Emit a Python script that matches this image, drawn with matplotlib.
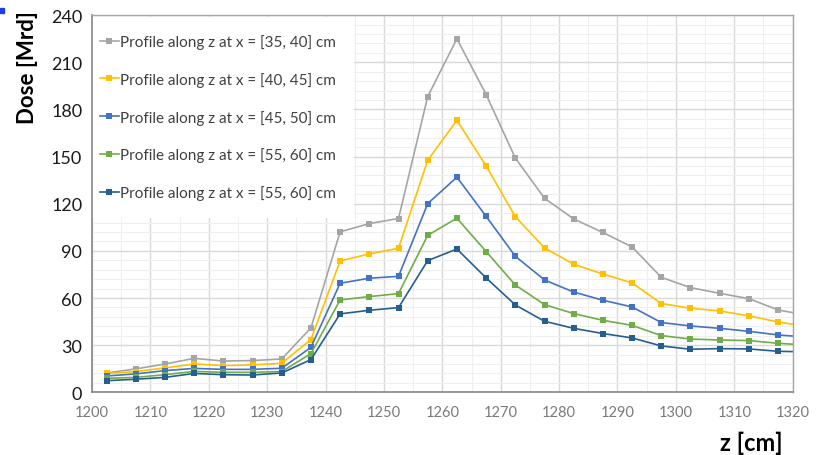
import numpy as np
import matplotlib
matplotlib.use("Agg")
import matplotlib.pyplot as plt
from matplotlib.patches import Rectangle
from matplotlib.ticker import MultipleLocator

plt.rcParams['font.family'] = ['Lato', 'DejaVu Sans']

z = [1202.5, 1207.5, 1212.5, 1217.5, 1222.5, 1227.5, 1232.5, 1237.5, 1242.5,
     1247.5, 1252.5, 1257.5, 1262.5, 1267.5, 1272.5, 1277.5, 1282.5, 1287.5,
     1292.5, 1297.5, 1302.5, 1307.5, 1312.5, 1317.5, 1322.5]

dose_35_40 = [12.3, 14.9, 18.0, 21.6, 19.9, 20.2, 21.2, 41.0, 102.1, 107.4, 110.6,
              188.2, 225.0, 189.5, 149.1, 123.5, 110.3, 101.7, 92.5, 73.2, 66.6,
              63.0, 59.6, 52.4, 49.0]
dose_40_45 = [12.0, 13.2, 15.5, 18.0, 17.0, 17.4, 18.5, 33.5, 83.6, 88.1, 91.7,
              147.7, 173.1, 144.1, 111.8, 91.9, 81.5, 75.3, 69.6, 56.5, 53.5,
              51.8, 48.6, 44.8, 41.8]
dose_45_50 = [10.4, 11.7, 13.8, 15.2, 14.6, 14.6, 15.3, 28.6, 69.4, 72.6, 73.8,
              120.1, 136.9, 112.0, 86.6, 71.5, 63.8, 58.6, 54.3, 44.4, 42.2,
              40.7, 38.8, 36.5, 35.1]
dose_55_60a = [8.9, 9.5, 11.2, 13.3, 12.7, 12.7, 13.2, 24.6, 58.8, 60.9, 62.8,
               99.9, 110.8, 89.6, 68.3, 55.8, 50.1, 45.8, 42.6, 36.1, 33.9,
               33.3, 32.9, 31.2, 30.0]
dose_55_60b = [7.4, 8.3, 9.5, 12.0, 11.2, 11.0, 12.3, 20.8, 49.9, 52.2, 53.9,
               83.8, 91.2, 72.8, 55.6, 45.2, 40.7, 37.4, 34.6, 29.5, 27.4,
               27.8, 27.6, 26.1, 25.7]

labels = ["Profile along z at x = [35, 40] cm",
          "Profile along z at x = [40, 45] cm",
          "Profile along z at x = [45, 50] cm",
          "Profile along z at x = [55, 60] cm",
          "Profile along z at x = [55, 60] cm"]
series = [dose_35_40, dose_40_45, dose_45_50, dose_55_60a, dose_55_60b]
colors = ["#A5A5A5", "#FFC000", "#4472C4", "#70AD47", "#255E91"]

fig = plt.figure(figsize=(8.21, 4.56), dpi=100)
ax = fig.add_axes([0.112, 0.1375, 0.8535, 0.827])

for vals, lab, col in zip(series, labels, colors):
    ax.plot(z, vals, color=col, lw=1.2, marker='s', markersize=4.5,
            markeredgewidth=0, label=lab, clip_on=True)

ax.set_xlim(1200, 1320)
ax.set_ylim(0, 240)
ax.xaxis.set_major_locator(MultipleLocator(10))
ax.xaxis.set_minor_locator(MultipleLocator(5))
ax.yaxis.set_major_locator(MultipleLocator(30))
ax.yaxis.set_minor_locator(MultipleLocator(6))
ax.grid(which='major', color='#D9D9D9', lw=1.0)
ax.grid(which='minor', color='#EFEFEF', lw=0.8)
ax.set_axisbelow(True)

for s in ['left', 'bottom']:
    ax.spines[s].set_color('#868686')
    ax.spines[s].set_linewidth(1.2)
for s in ['top', 'right']:
    ax.spines[s].set_color('#A6A6A6')
    ax.spines[s].set_linewidth(1.0)
for s in ax.spines.values():
    s.set_zorder(6)

ax.tick_params(axis='y', which='both', length=0, labelsize=13, labelcolor='#1a1a1a', pad=7)
ax.tick_params(axis='x', which='both', length=0, labelsize=10.5, labelcolor='#7a7a7a', pad=9)

leg = ax.legend(loc='upper left', bbox_to_anchor=(-0.0154, 1.0), frameon=True,
                fontsize=11, labelspacing=1.5, handlelength=1.24,
                handletextpad=0.1, borderaxespad=0.1, borderpad=1.13,
                fancybox=False)
leg.get_frame().set_facecolor('white')
leg.get_frame().set_edgecolor('white')
leg.get_frame().set_alpha(1.0)
leg.get_frame().set_linewidth(0)
for t in leg.get_texts():
    t.set_color('#404040')
for h in leg.legend_handles:
    h.set_markersize(4)

fig.text(0.034, 0.851, "Dose [Mrd]", rotation=90, ha='center', va='center',
         fontsize=16, fontweight='bold', color='black')
fig.text(0.915, 0.028, "z [cm]", ha='center', va='center',
         fontsize=17, fontweight='bold', color='black')

fig.patches.append(Rectangle((0, 1 - 14 / 456), 4 / 821, 5 / 456,
                             transform=fig.transFigure, color='#1f3fdc'))

fig.savefig("out.png", dpi=100)
